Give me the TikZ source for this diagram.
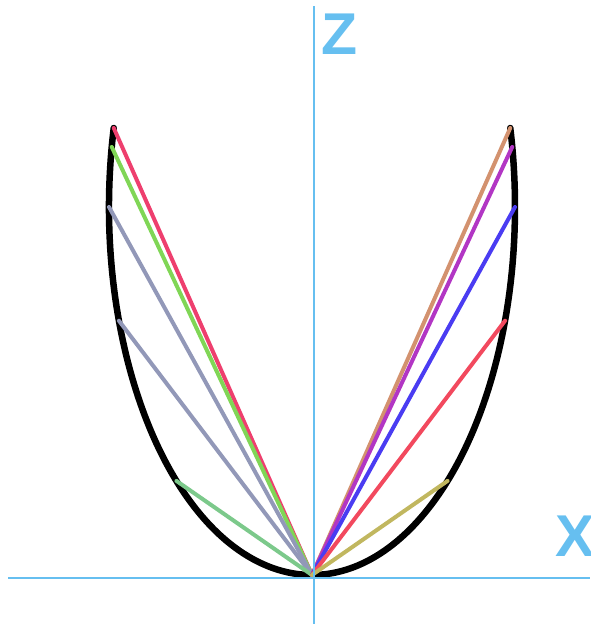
\documentclass[tikz,border=0pt]{standalone}
\usepackage{fontspec}
\setmainfont{Liberation Sans}
\usetikzlibrary{positioning}

\definecolor{axiscol}{HTML}{66BFF0}
\definecolor{rayA}{HTML}{EE3F6E}
\definecolor{rayB}{HTML}{80D656}
\definecolor{rayC}{HTML}{9298B8}
\definecolor{rayD}{HTML}{7CC98B}
\definecolor{rayE}{HTML}{D3926F}
\definecolor{rayF}{HTML}{B236C4}
\definecolor{rayG}{HTML}{4A3CF2}
\definecolor{rayH}{HTML}{F2495E}
\definecolor{rayI}{HTML}{C1B75F}

\begin{document}
\begin{tikzpicture}[
    x=1pt, y=1pt,
    axis/.style={draw=axiscol, line width=2pt},
    axislbl/.style={text=axiscol, inner sep=0pt, anchor=base west,
        font=\fontsize{59}{59}\selectfont\bfseries},
    lobe/.style={draw=black, line width=6.5pt, line cap=round},
    ray/.style={line width=4pt, line cap=round}
]

\useasboundingbox (0,0) rectangle (590,624);
\clip (0,0) rectangle (590,624);

\coordinate (c)    at (312, 417);
\coordinate (xneg) at (8,   46);
\coordinate (xpos) at (590, 46);
\coordinate (zneg) at (314, 0);
\coordinate (zpos) at (314, 618);

\path (c) ++(270:203 and 368)   coordinate (o);
\path (c) ++(167.6:203 and 368) coordinate (l1);
\path (c) ++(170.6:203 and 368) coordinate (l2);
\path (c) ++(180:203 and 368)   coordinate (l3);
\path (c) ++(198:203 and 368)   coordinate (l4);
\path (c) ++(228.1:203 and 368) coordinate (l5);
\path (c) ++(12.4:203 and 368)  coordinate (r1);
\path (c) ++(9.4:203 and 368)   coordinate (r2);
\path (c) ++(0:203 and 368)     coordinate (r3);
\path (c) ++(-18:203 and 368)   coordinate (r4);
\path (c) ++(-48.1:203 and 368) coordinate (r5);

\draw[lobe] (l1) arc[start angle=167.6, end angle=372.4, x radius=203, y radius=368];

\draw[ray, rayA] (o) -- (l1);
\draw[ray, rayB] (o) -- (l2);
\draw[ray, rayC] (o) -- (l3);
\draw[ray, rayC] (o) -- (l4);
\draw[ray, rayD] (o) -- (l5);
\draw[ray, rayE] (o) -- (r1);
\draw[ray, rayF] (o) -- (r2);
\draw[ray, rayG] (o) -- (r3);
\draw[ray, rayH] (o) -- (r4);
\draw[ray, rayI] (o) -- (r5);

\draw[axis] (xneg) -- (xpos);
\draw[axis] (zneg) -- (zpos);

\node[axislbl] (zlbl) at (321, 569) {Z};
\node[axislbl] (xlbl) at (555, 67)  {X};

\end{tikzpicture}
\end{document}
